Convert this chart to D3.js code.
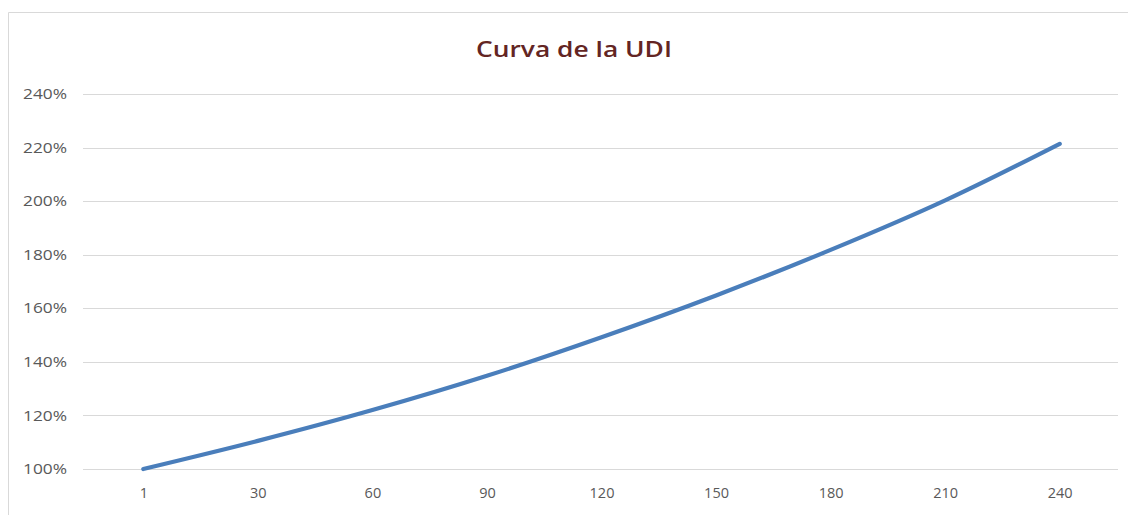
<!DOCTYPE html>
<html>
<head>
<meta charset="utf-8">
<script src="https://cdn.jsdelivr.net/npm/d3@7/dist/d3.min.js"></script>
<style>
  html, body { margin: 0; padding: 0; background: #fff; }
  svg { display: block; }
</style>
</head>
<body>
<svg id="chart" width="1128" height="515"></svg>
<script>
// ---- data ----
const categories = ["1", "30", "60", "90", "120", "150", "180", "210", "240"];
const udiValues = [100, 110.5, 122, 134.8, 149.2, 164.8, 181.8, 200.3, 221.4];
const yTicks = [100, 120, 140, 160, 180, 200, 220, 240];
const titleText = "Curva de la UDI";

// ---- layout ----
const W = 1128, H = 515;
const plot = { left: 86, right: 1117, top: 94, bottom: 469 };
const svg = d3.select("#chart");

// chart frame (top & left edges visible)
svg.append("line").attr("x1", 8.5).attr("x2", W).attr("y1", 12.5).attr("y2", 12.5)
  .attr("stroke", "#d9d9d9").attr("stroke-width", 1);
svg.append("line").attr("x1", 8.5).attr("x2", 8.5).attr("y1", 12.5).attr("y2", H)
  .attr("stroke", "#d9d9d9").attr("stroke-width", 1);

const x = d3.scalePoint().domain(categories)
  .range([plot.left, plot.right]).padding(0.5);
const y = d3.scaleLinear().domain([100, 240]).range([plot.bottom, plot.top]);

// gridlines
svg.append("g").selectAll("line").data(yTicks).join("line")
  .attr("x1", 83).attr("x2", 1118)
  .attr("y1", d => Math.round(y(d)) + 0.5).attr("y2", d => Math.round(y(d)) + 0.5)
  .attr("stroke", "#d9d9d9").attr("stroke-width", 1);

const labelFont = "'Open Sans', sans-serif";

// y axis labels
const yAxis = d3.axisLeft(y).tickValues(yTicks).tickSize(0).tickPadding(0)
  .tickFormat(d => d + "%");
const gy = svg.append("g").attr("transform", "translate(67,0)").call(yAxis);
gy.select(".domain").remove();
gy.selectAll("text").attr("font-family", labelFont)
  .attr("font-size", "14.5px").attr("fill", "#595959")
  .attr("textLength", 44).attr("lengthAdjust", "spacingAndGlyphs");

// x axis labels
const xAxis = d3.axisBottom(x).tickSize(0).tickPadding(0);
const gx = svg.append("g").attr("transform", `translate(0,${plot.bottom + 19})`).call(xAxis);
gx.select(".domain").remove();
gx.selectAll("text").attr("font-family", labelFont)
  .attr("font-size", "14.5px").attr("fill", "#595959");

// line
const line = d3.line().x((d, i) => x(categories[i])).y(d => y(d))
  .curve(d3.curveMonotoneX);
svg.append("path").datum(udiValues)
  .attr("d", line).attr("fill", "none")
  .attr("stroke", "#4a7ebb").attr("stroke-width", 4.2)
  .attr("stroke-linecap", "round").attr("stroke-linejoin", "round");

// title
const t = svg.append("text").text(titleText)
  .attr("x", 574).attr("y", 57).attr("text-anchor", "middle")
  .attr("font-family", labelFont).attr("font-weight", 600)
  .attr("font-size", "22px").attr("fill", "#632523");
const tw = t.node().getComputedTextLength();
if (tw > 0) t.attr("textLength", 196).attr("lengthAdjust", "spacingAndGlyphs");
</script>
</body>
</html>
